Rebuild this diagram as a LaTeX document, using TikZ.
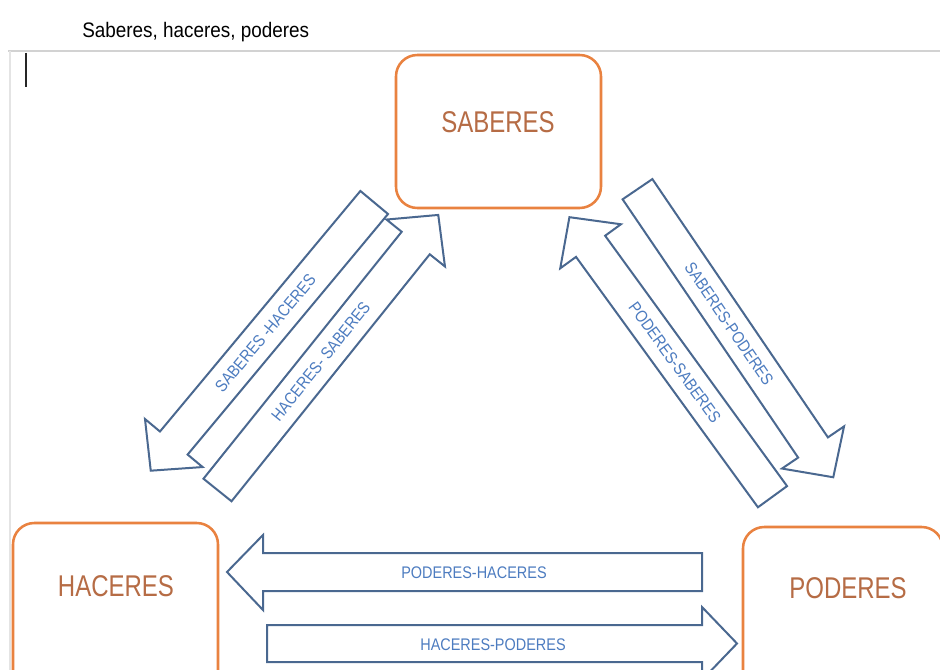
\documentclass[tikz,border=0pt]{standalone}
\usepackage{fontspec}
\setmainfont{Liberation Sans}
\newfontfamily\boxfont[FakeStretch=0.8]{Liberation Sans}
\newfontfamily\arrfont[FakeStretch=0.86]{Liberation Sans}
\newfontfamily\ttlfont[FakeStretch=0.9]{Liberation Sans}
\definecolor{boxorange}{HTML}{E98240}
\definecolor{boxtext}{HTML}{B66C45}
\definecolor{arrline}{HTML}{4A6890}
\definecolor{arrtext}{HTML}{4D7CC0}
\definecolor{framegray}{HTML}{D2D2D2}
\definecolor{framegray2}{HTML}{E4E4E4}
\tikzset{
  boxst/.style={draw=boxorange, line width=1.9pt, rounded corners=16pt, fill=white, inner sep=0pt},
  boxtxt/.style={text=boxtext, font=\boxfont\fontsize{22.5}{26}\selectfont, inner sep=0pt},
  arrtxt/.style={text=arrtext, font=\arrfont\fontsize{12.6}{15}\selectfont, inner sep=0pt},
  blockarr/.style={draw=arrline, line width=1.5pt, line join=miter, fill=white},
  ttlst/.style={font=\ttlfont\fontsize{15.75}{18}\selectfont, inner sep=0pt}
}
\begin{document}
\begin{tikzpicture}[x=0.75pt,y=-0.75pt]
\useasboundingbox (0,0) rectangle (940,670);
\clip (0,0) rectangle (940,670);
\fill[white] (0,0) rectangle (940,670);

% title and frame
\node[ttlst, anchor=base west] (title) at (82,38) {Saberes, haceres, poderes};
\draw[framegray, line width=1.5pt] (8,51.5) -- (940,51.5);
\draw[framegray2, line width=1pt] (10,51.5) -- (10,670);
\draw[black!85, line width=2.2pt] (26,53) -- (26,87);

% boxes
\node[boxst, minimum width=153.75pt, minimum height=114.75pt] (saberes) at (498.5,131.5) {};
\node[boxst, minimum width=153.75pt, minimum height=142.5pt] (haceres) at (115.5,618) {};
\node[boxst, minimum width=150pt, minimum height=142.5pt] (poderes) at (843,622) {};
\node[boxtxt] (saberestxt) at (498,122) {SABERES};
\node[boxtxt] (hacerestxt) at (116,586) {HACERES};
\node[boxtxt] (poderestxt) at (848,588) {PODERES};

% diagonal block arrows, left pair
\begin{scope}[shift={(374.2,202.5)}, rotate=-129.8]
  \draw[blockarr] (0,-18) -- (313.1,-18) -- (313.1,-37.5) -- (349.1,0) -- (313.1,37.5) -- (313.1,18) -- (0,18) -- cycle;
\end{scope}
\begin{scope}[shift={(217.5,490)}, rotate=51.25]
  \draw[blockarr] (0,-18) -- (316.7,-18) -- (316.7,-37.5) -- (352.7,0) -- (316.7,37.5) -- (316.7,18) -- (0,18) -- cycle;
\end{scope}
\node[arrtxt, rotate=50.2] (sabhac) at (265.4,333.1) {SABERES -HACERES};
\node[arrtxt, rotate=51.25] (hacsab) at (320.8,361.3) {HACERES- SABERES};

% diagonal block arrows, right pair
\begin{scope}[shift={(637.5,189.2)}, rotate=-55.8]
  \draw[blockarr] (0,-18) -- (312.3,-18) -- (312.3,-37.5) -- (348.3,0) -- (312.3,37.5) -- (312.3,18) -- (0,18) -- cycle;
\end{scope}
\begin{scope}[shift={(772.5,496.7)}, rotate=126.0]
  \draw[blockarr] (0,-18) -- (309.5,-18) -- (309.5,-37.5) -- (345.5,0) -- (309.5,37.5) -- (309.5,18) -- (0,18) -- cycle;
\end{scope}
\node[arrtxt, rotate=-55.8] (sabpod) at (729.1,324.0) {SABERES-PODERES};
\node[arrtxt, rotate=-54.0] (podsab) at (674.9,362.4) {PODERES-SABERES};

% horizontal block arrows
\draw[blockarr] (702,553) -- (263,553) -- (263,535) -- (227,572) -- (263,610) -- (263,591) -- (702,591) -- cycle;
\draw[blockarr] (267,625) -- (702,625) -- (702,607) -- (737,643.5) -- (702,680) -- (702,662) -- (267,662) -- cycle;
\node[arrtxt] (podhac) at (474,573) {PODERES-HACERES};
\node[arrtxt] (hacpod) at (493,645) {HACERES-PODERES};
\end{tikzpicture}
\end{document}
